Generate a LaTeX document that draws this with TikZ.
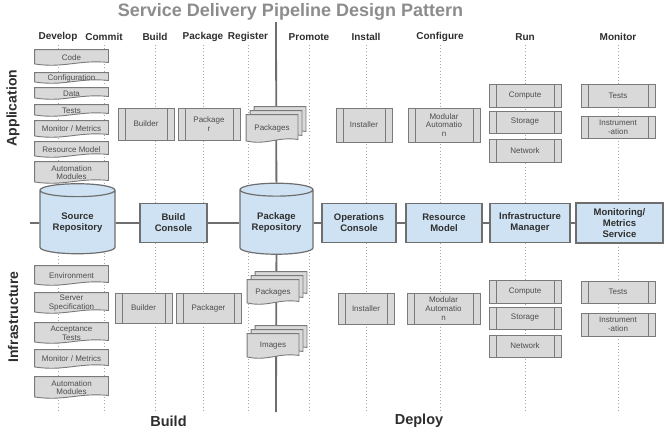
\documentclass[tikz,border=0pt]{standalone}
\usepackage{fontspec}
\setmainfont{Liberation Sans}
\usetikzlibrary{shapes.geometric,backgrounds}
\definecolor{docgray}{HTML}{D9D9D9}
\definecolor{edgegray}{HTML}{7A7A7A}
\definecolor{boxblue}{HTML}{CFE2F3}
\definecolor{titlegray}{HTML}{8C8C8C}
\definecolor{txt}{HTML}{2E2E2E}
\definecolor{smalltxt}{HTML}{4D4D4D}
\definecolor{dotgray}{HTML}{A8A8A8}
\definecolor{linegray}{HTML}{6E6E6E}
\makeatletter
\newdimen\dsL \newdimen\dsR \newdimen\dsB \newdimen\dsT \newdimen\dsW
\newdimen\dsYa \newdimen\dsYb \newdimen\dsYc \newdimen\dsYd \newdimen\dsXc \newdimen\dsXd
\pgfdeclareshape{docshape}{
  \inheritsavedanchors[from=rectangle]
  \inheritanchorborder[from=rectangle]
  \inheritanchor[from=rectangle]{center}
  \inheritanchor[from=rectangle]{north}
  \inheritanchor[from=rectangle]{south}
  \inheritanchor[from=rectangle]{east}
  \inheritanchor[from=rectangle]{west}
  \inheritanchor[from=rectangle]{north east}
  \inheritanchor[from=rectangle]{north west}
  \inheritanchor[from=rectangle]{south east}
  \inheritanchor[from=rectangle]{south west}
  \inheritanchor[from=rectangle]{text}
  \inheritanchor[from=rectangle]{base}
  \inheritanchor[from=rectangle]{mid}
  \backgroundpath{%
    \southwest \dsL=\pgf@x \dsB=\pgf@y
    \northeast \dsR=\pgf@x \dsT=\pgf@y
    \dsW=\dsR \advance\dsW by -\dsL
    \dsYa=\dsB \advance\dsYa by 3pt
    \dsYb=\dsB \advance\dsYb by 1.5pt
    \dsYc=\dsB \advance\dsYc by 6pt
    \dsYd=\dsB \advance\dsYd by -3pt
    \dsXc=\dsR \advance\dsXc by -0.4\dsW
    \dsXd=\dsL \advance\dsXd by 0.4\dsW
    \pgfpathmoveto{\pgfqpoint{\dsL}{\dsT}}%
    \pgfpathlineto{\pgfqpoint{\dsR}{\dsT}}%
    \pgfpathlineto{\pgfqpoint{\dsR}{\dsYa}}%
    \pgfpathcurveto{\pgfqpoint{\dsXc}{\dsYc}}{\pgfqpoint{\dsXd}{\dsYd}}{\pgfqpoint{\dsL}{\dsYb}}%
    \pgfpathclose
  }
}
\makeatother
\tikzset{
  doc/.style={shape=docshape, draw=edgegray, fill=docgray, line width=0.9pt, inner sep=0.5pt,
    align=center, text=smalltxt, font=\fontsize{8}{8.6}\selectfont, minimum width=73pt},
  mdoc/.style={doc, minimum width=51pt},
  proc/.style={rectangle, draw=edgegray, fill=docgray, line width=0.9pt, inner sep=0.5pt,
    align=center, text=smalltxt, font=\fontsize{8}{8.6}\selectfont,
    path picture={\draw[edgegray, line width=0.9pt]
      ([xshift=7pt]path picture bounding box.north west) -- ([xshift=7pt]path picture bounding box.south west)
      ([xshift=-7pt]path picture bounding box.north east) -- ([xshift=-7pt]path picture bounding box.south east);}},
  mainbox/.style={rectangle, draw=linegray, fill=boxblue, line width=1.2pt, align=center,
    font=\bfseries\fontsize{9.5}{11}\selectfont, text=txt, minimum height=39pt, inner sep=1pt},
  repo/.style={cylinder, shape border rotate=90, aspect=0.25, draw=linegray, fill=boxblue,
    line width=1.2pt, align=center, font=\bfseries\fontsize{9.5}{11}\selectfont, text=txt, inner sep=1pt},
  hdr/.style={font=\bfseries\fontsize{10}{12}\selectfont, text=txt},
  side/.style={font=\bfseries\fontsize{14}{16}\selectfont, text=txt, rotate=90},
  phase/.style={font=\bfseries\fontsize{14.5}{16}\selectfont, text=txt},
  dotline/.style={dotgray, line width=0.8pt, dash pattern=on 0.8pt off 2.4pt},
  conn/.style={linegray, line width=1.8pt},
}
\begin{document}
\begin{tikzpicture}[x=1pt, y=-1pt]
\useasboundingbox (0,0) rectangle (666,432);
% title and labels
\node[font=\bfseries\fontsize{18}{20}\selectfont, text=titlegray] (title) at (290.5,12) {Service Delivery Pipeline Design Pattern};
\node[side] (lApp) at (13,108) {Application};
\node[side] (lInf) at (13,317) {Infrastructure};
\node[phase] (pBuild) at (168.5,421) {Build};
\node[phase] (pDeploy) at (419,421) {Deploy};
% headers
\node[hdr] (hDev) at (58,37) {Develop};
\node[hdr] (hCom) at (104,37) {Commit};
\node[hdr] (hBld) at (155,37) {Build};
\node[hdr] (hPkg) at (203,37) {Package};
\node[hdr] (hReg) at (248,37) {Register};
\node[hdr] (hPro) at (309,37) {Promote};
\node[hdr] (hIns) at (366,37) {Install};
\node[hdr] (hCfg) at (440,37) {Configure};
\node[hdr] (hRun) at (525,37) {Run};
\node[hdr] (hMon) at (618,37) {Monitor};
\coordinate (dotstart) at (0,45);
\coordinate (dotend) at (0,410);
\coordinate (hstart) at (30,223);
\coordinate (vtop) at (276,22);
\coordinate (vbot) at (276,412);
% application documents
\node[doc, minimum height=15pt] (dCode) at (71.5,57.5) {Code};
\node[doc, minimum height=10pt] (dConf) at (71.5,78) {Configuration};
\node[doc, minimum height=11pt] (dData) at (71.5,93.5) {Data};
\node[doc, minimum height=11pt] (dTests) at (71.5,110.5) {Tests};
\node[doc, minimum height=16pt] (dMon) at (71.5,129) {Monitor / Metrics};
\node[doc, minimum height=15pt] (dRes) at (71.5,149.5) {Resource Model};
\node[doc, minimum height=21pt] (dAuto) at (71.5,172.5) {Automation\\Modules};
% infrastructure documents
\node[doc, minimum height=19pt] (dEnv) at (71.5,275.5) {Environment};
\node[doc, minimum height=20pt] (dSrv) at (71.5,303) {Server\\Specification};
\node[doc, minimum height=20pt] (dAcc) at (71.5,333) {Acceptance\\Tests};
\node[doc, minimum height=18pt] (dMon2) at (71.5,359) {Monitor / Metrics};
\node[doc, minimum height=21pt] (dAuto2) at (71.5,387.5) {Automation\\Modules};
% build stage processes
\node[proc, minimum width=56pt, minimum height=32pt] (bldA) at (146,124) {Builder};
\node[proc, minimum width=62pt, minimum height=32pt] (pkgrA) at (209,124) {Package\\r};
\node[proc, minimum width=57pt, minimum height=30pt] (bldI) at (143.5,308) {Builder};
\node[proc, minimum width=65pt, minimum height=30pt] (pkgrI) at (208.5,308) {Packager};
% package stacks
\node[mdoc, minimum height=27pt] (pkA3) at (280,120.5) {};
\node[mdoc, minimum height=27pt] (pkA2) at (276,124.5) {};
\node[mdoc, minimum height=27pt] (pkA) at (272,128.5) {Packages};
\node[mdoc, minimum height=24pt] (pkI3) at (281,284) {};
\node[mdoc, minimum height=24pt] (pkI2) at (277,288) {};
\node[mdoc, minimum height=24pt] (pkI) at (273,292) {Packages};
\node[mdoc, minimum height=24pt] (imI3) at (281,338) {};
\node[mdoc, minimum height=24pt] (imI2) at (277,342) {};
\node[mdoc, minimum height=24pt] (imI) at (273,346) {Images};
% deploy stage processes (application)
\node[proc, minimum width=56pt, minimum height=34pt] (insA) at (364,125) {Installer};
\node[proc, minimum width=72pt, minimum height=34pt] (modA) at (444,125) {Modular\\Automatio\\n};
\node[proc, minimum width=72pt, minimum height=23pt] (cmpA) at (525,95.5) {Compute};
\node[proc, minimum width=72pt, minimum height=22pt] (stoA) at (525,122) {Storage};
\node[proc, minimum width=72pt, minimum height=23pt] (netA) at (525,150.5) {Network};
\node[proc, minimum width=74pt, minimum height=23pt] (tstA) at (618,95.5) {Tests};
\node[proc, minimum width=74pt, minimum height=22pt] (insmA) at (618,127) {Instrument\\-ation};
% deploy stage processes (infrastructure)
\node[proc, minimum width=56pt, minimum height=31pt] (insI) at (366,308.5) {Installer};
\node[proc, minimum width=73pt, minimum height=31pt] (modI) at (443.5,308.5) {Modular\\Automatio\\n};
\node[proc, minimum width=72pt, minimum height=23pt] (cmpI) at (525,291.5) {Compute};
\node[proc, minimum width=72pt, minimum height=22pt] (stoI) at (525,318) {Storage};
\node[proc, minimum width=72pt, minimum height=22pt] (netI) at (525,346) {Network};
\node[proc, minimum width=74pt, minimum height=22pt] (tstI) at (618,292) {Tests};
\node[proc, minimum width=74pt, minimum height=23pt] (insmI) at (618,324.5) {Instrument\\-ation};
% pipeline services
\node[repo, minimum width=75pt, minimum height=70pt] (src) at (77.5,223) {Source\\Repository};
\node[mainbox, minimum width=67pt] (bc) at (173.5,223) {Build\\Console};
\node[repo, minimum width=73pt, minimum height=71pt] (pr) at (276.5,223) {Package\\Repository};
\node[mainbox, minimum width=74pt] (oc) at (359,223) {Operations\\Console};
\node[mainbox, minimum width=76pt] (rm) at (444,223) {Resource\\Model};
\node[mainbox, minimum width=80pt] (im) at (530,223) {Infrastructure\\Manager};
\node[mainbox, minimum width=87pt, minimum height=40pt] (mm) at (619.5,223) {Monitoring/\\Metrics\\Service};
\begin{scope}[on background layer]
  \foreach \h in {hDev,hCom,hBld,hPkg,hReg,hPro,hIns,hCfg,hRun,hMon}
    \draw[dotline] (\h.south |- dotstart) -- (\h.south |- dotend);
  \draw[conn] (vtop) -- (pr);
  \draw[conn] (pr) -- (vbot);
  \draw[conn] (hstart) -- (src);
  \draw[conn] (src) -- (bc);
  \draw[conn] (bc) -- (pr);
  \draw[conn] (pr) -- (oc);
  \draw[conn] (oc) -- (rm);
  \draw[conn] (rm) -- (im);
  \draw[conn] (im) -- (mm);
\end{scope}
\end{tikzpicture}
\end{document}
